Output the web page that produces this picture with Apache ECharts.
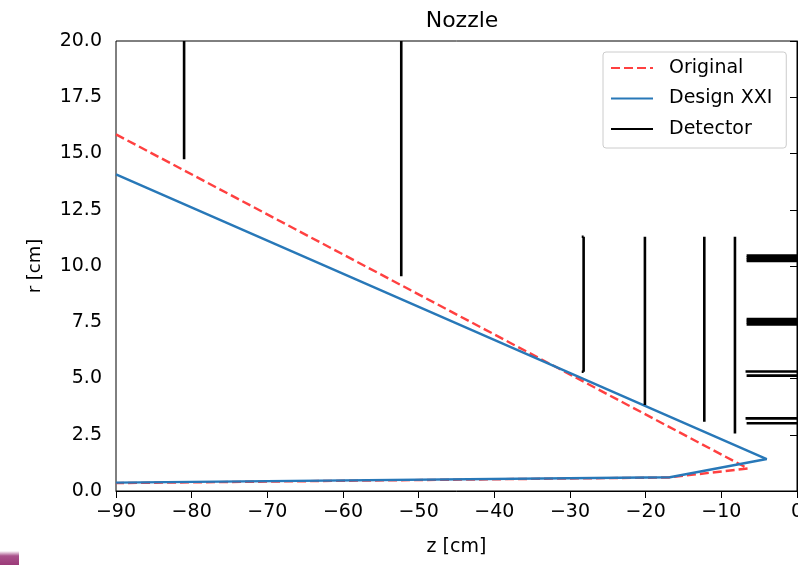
<!DOCTYPE html>
<html>
<head>
<meta charset="utf-8">
<script src="https://cdn.jsdelivr.net/npm/echarts@6/dist/echarts.min.js"></script>
<style>html,body{margin:0;padding:0;background:#fff;}#c{width:798px;height:565px;}</style>
</head>
<body>
<div id="c"></div>
<script>
// ---- data ----
const originalZ = [-90, -6.5, -17, -90];
const originalR = [15.85, 1.0, 0.6, 0.35];
const designZ = [-90, -4, -16.8, -90];
const designR = [14.07, 1.42, 0.61, 0.37];
// detector segments (z, r pairs per segment)
const detectorZ = [
  [-81, -81],
  [-52.3, -52.3],
  [-28.2, -28.2],
  [-28.45, -28.2],
  [-28.45, -28.2],
  [-20.1, -20.1],
  [-12.25, -12.25],
  [-8.2, -8.2],
  [-6.66, 0], [-6.66, 0], [-6.66, 0], [-6.66, 0],
  [-6.66, 0], [-6.66, 0], [-6.66, 0], [-6.66, 0],
  [-6.8, 0], [-6.66, 0],
  [-6.8, 0], [-6.66, 0]
];
const detectorR = [
  [14.75, 20],
  [9.55, 20],
  [5.3, 11.3],
  [11.3, 11.3],
  [5.3, 5.3],
  [3.82, 11.3],
  [3.08, 11.3],
  [2.56, 11.3],
  [10.22, 10.22], [10.3, 10.3], [10.38, 10.38], [10.46, 10.46],
  [7.4, 7.4], [7.48, 7.48], [7.56, 7.56], [7.64, 7.64],
  [5.31, 5.31], [5.13, 5.13],
  [3.23, 3.23], [3.01, 3.01]
];
const xTicks = {min: -90, max: 0, interval: 10};
const yTicks = {min: 0, max: 20, interval: 2.5};

const pairs = (zs, rs) => zs.map((z, i) => [z, rs[i]]);
const minus = s => String(s).replace('-', '\u2212');
const font = 'DejaVu Sans';

const series = [
  {
    name: 'Original', type: 'line', data: pairs(originalZ, originalR),
    showSymbol: false, symbol: 'none', z: 3,
    lineStyle: {color: '#ff4040', width: 2.4, type: [9, 4]},
    itemStyle: {color: '#ff4040'}
  },
  {
    name: 'Design XXI', type: 'line', data: pairs(designZ, designR),
    showSymbol: false, symbol: 'none', z: 4,
    lineStyle: {color: '#2878b8', width: 2.4},
    itemStyle: {color: '#2878b8'}
  }
];
detectorZ.forEach((zs, i) => {
  series.push({
    name: 'Detector', type: 'line', data: pairs(zs, detectorR[i]),
    showSymbol: false, symbol: 'none', z: 5,
    lineStyle: {color: '#000', width: 2.6, cap: 'butt'},
    itemStyle: {color: '#000'}
  });
});

const chart = echarts.init(document.getElementById('c'), null, {renderer: 'canvas'});
chart.setOption({
  animation: false,
  backgroundColor: '#fff',
  textStyle: {fontFamily: font},
  title: {
    text: 'Nozzle', left: 457, top: 5, textAlign: 'center',
    textStyle: {fontFamily: font, fontSize: 22, fontWeight: 'normal', color: '#000'}
  },
  grid: {left: 116, right: 1, top: 41, bottom: 74, containLabel: false, outerBoundsMode: 'none',
    show: true, borderColor: '#000', borderWidth: 1, backgroundColor: 'transparent'},
  legend: {
    data: ['Original', 'Design XXI', 'Detector'],
    orient: 'vertical', left: 603, top: 52,
    padding: [6, 14, 9, 7],
    itemWidth: 42, itemHeight: 20, itemGap: 10.5,
    itemStyle: {opacity: 0},
    backgroundColor: '#fff', borderColor: '#cccccc', borderWidth: 1, borderRadius: 3,
    textStyle: {fontFamily: font, fontSize: 19, lineHeight: 20, color: '#000', padding: [0, 0, 0, 11]}
  },
  xAxis: {
    type: 'value', min: xTicks.min, max: xTicks.max, interval: xTicks.interval,
    name: 'z [cm]', nameLocation: 'middle', nameGap: 47,
    nameTextStyle: {fontFamily: font, fontSize: 19, color: '#000'},
    axisLine: {show: true, lineStyle: {color: '#000', width: 1}},
    axisTick: {show: true, length: 7, lineStyle: {color: '#000'}},
    axisLabel: {fontFamily: font, fontSize: 19, color: '#000', margin: 12, formatter: v => minus(v)},
    splitLine: {show: false}
  },
  yAxis: {
    type: 'value', min: yTicks.min, max: yTicks.max, interval: yTicks.interval,
    name: 'r [cm]', nameLocation: 'middle', nameGap: 72, nameRotate: 90,
    nameTextStyle: {fontFamily: font, fontSize: 18, color: '#000'},
    axisLine: {show: true, lineStyle: {color: '#000', width: 1}},
    axisTick: {show: true, length: 7, lineStyle: {color: '#000'}},
    axisLabel: {fontFamily: font, fontSize: 19, color: '#000', margin: 14, formatter: v => v.toFixed(1)},
    splitLine: {show: false}
  },
  graphic: [{
    type: 'rect', left: 0, top: 551, shape: {width: 19, height: 14},
    style: {fill: new echarts.graphic.LinearGradient(0, 0, 0, 1, [
      {offset: 0, color: 'rgba(160,64,127,0)'},
      {offset: 0.35, color: 'rgba(160,64,127,0.9)'},
      {offset: 1, color: '#9b3a78'}
    ])},
    silent: true
  }],
  series: series
});
</script>
</body>
</html>
